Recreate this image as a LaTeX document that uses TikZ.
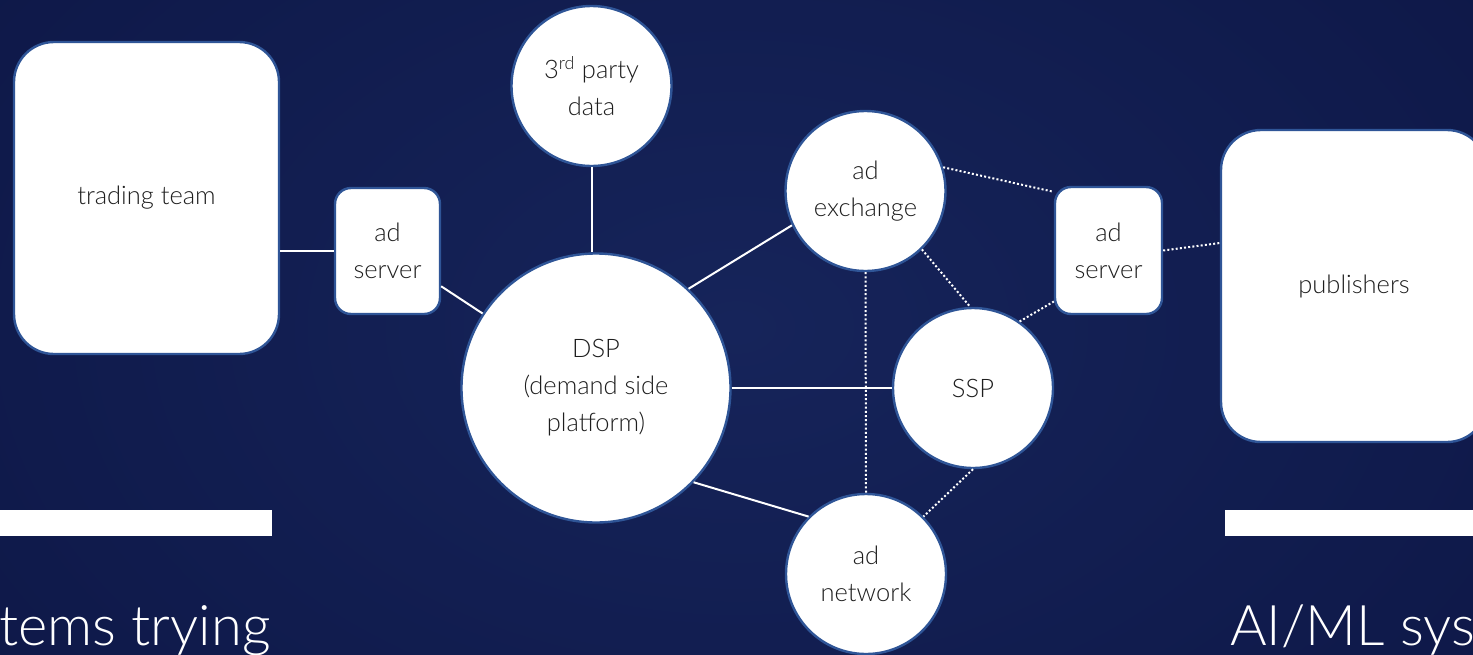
\documentclass[tikz,border=0pt]{standalone}
\usepackage{fontspec}
\setmainfont{Lato}[UprightFont={* Light}]
\usetikzlibrary{calc}
\definecolor{bgnavy}{HTML}{0E1848}
\definecolor{bgmid}{HTML}{16245A}
\definecolor{edgeblue}{HTML}{2F5597}
\definecolor{ink}{HTML}{1E1E1E}
\tikzset{
  ent/.style={draw=edgeblue, line width=2.4pt, fill=white, text=ink, align=center, font=\fontsize{25.5}{37}\selectfont, inner sep=0pt},
  boxent/.style={ent, rectangle},
  circent/.style={ent, circle},
  link/.style={draw=white, line width=2pt},
  dotlink/.style={draw=white, line width=2pt, dash pattern=on 2pt off 2.2pt},
  bar/.style={fill=white, draw=none},
  bigtext/.style={text=white, font=\fontsize{56}{56}\selectfont, inner sep=0pt}
}
\begin{document}
\begin{tikzpicture}[x=1pt,y=-1pt]
\useasboundingbox (0,0) rectangle (1473,654);
\begin{scope}
\clip (0,0) rectangle (1473,654);
\shade[inner color=bgmid, outer color=bgnavy] (-200,-300) rectangle (1673,954);
% nodes
\node[boxent, minimum width=265pt, minimum height=312pt, rounded corners=40pt] (tt) at (146.5,198) {trading team};
\node[boxent, minimum width=105pt, minimum height=126pt, rounded corners=16pt] (asl) at (387.5,251) {ad\\server};
\node[circent, minimum size=160pt] (tp) at (591.5,86) {3\textsuperscript{rd} party\\data};
\node[circent, minimum size=269pt] (dsp) at (596,388) {DSP\\(demand side\\platform)};
\node[circent, minimum size=160pt] (adx) at (865.5,191) {ad\\exchange};
\node[circent, minimum size=160pt] (ssp) at (973,388) {SSP};
\node[circent, minimum size=160pt] (adn) at (866,574) {ad\\network};
\node[boxent, minimum width=107pt, minimum height=127pt, rounded corners=16pt] (asr) at (1108.5,250.5) {ad\\server};
\node[boxent, minimum width=266pt, minimum height=312pt, rounded corners=40pt] (pub) at (1354,286) {publishers};
% solid links
\draw[link] (tt.east |- asl.west) -- (asl.west);
\draw[link] (asl) -- (dsp);
\draw[link] (tp.south) -- (tp.south |- dsp.north);
\draw[link] (dsp.47) -- (adx.205);
\draw[link] (dsp) -- (ssp);
\draw[link] (dsp.-44) -- (adn.135);
% dotted links
\draw[dotlink] (adx.17) -- (asr.133);
\draw[dotlink] (adx.-46) -- (ssp.92);
\draw[dotlink] (adx.south) -- (adn.north);
\draw[dotlink] (ssp.55) -- (asr.-137);
\draw[dotlink] (ssp.-90) -- (adn.45);
\coordinate (pubin) at ($(pub.west)+(0,-43)$);
\draw[dotlink] (asr.east) -- (pubin);
% bars and big text
\fill[bar] (-5,510) rectangle (272,536);
\fill[bar] (1225,510) rectangle (1480,536);
\node[bigtext, anchor=base west] (lt) at (-1,645) {tems trying};
\node[bigtext, anchor=base west] (rt) at (1230,645) {AI/ML syst};
\end{scope}
\end{tikzpicture}
\end{document}
